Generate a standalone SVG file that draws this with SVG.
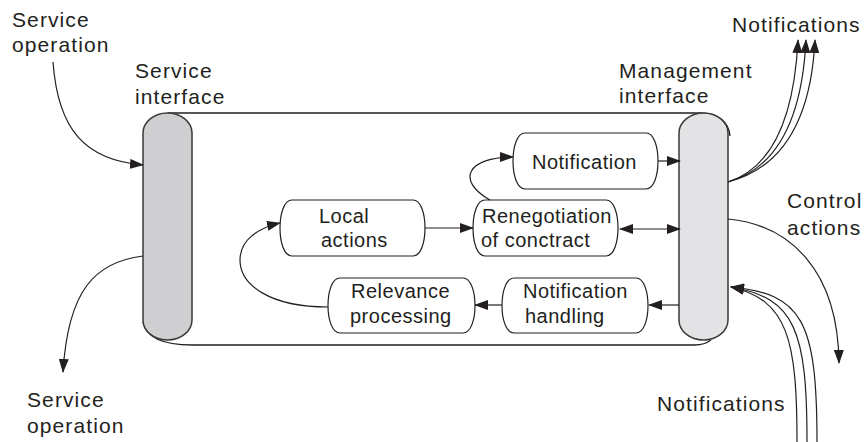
<svg xmlns="http://www.w3.org/2000/svg" width="865" height="442" viewBox="0 0 865 442">
<style>
  .lbl { font-family: "Liberation Sans", Arial, sans-serif; font-size: 21px; letter-spacing: 1.1px; fill: #231f20; }
  .ntx { font-family: "Liberation Sans", Arial, sans-serif; font-size: 20px; letter-spacing: 0.5px; fill: #231f20; }
  .box { fill: #ffffff; stroke: #231f20; stroke-width: 1.2; }
  .pill { stroke: #3a3a3a; stroke-width: 1.5; }
  .tube { fill: none; stroke: #231f20; stroke-width: 1.3; }
  .con { fill: none; stroke: #231f20; stroke-width: 1.2; }
</style>
<defs>
  <marker id="ah" markerWidth="14" markerHeight="10" refX="13" refY="5" orient="auto-start-reverse" markerUnits="userSpaceOnUse">
    <path d="M0,0 L14,5 L0,10 Z" fill="#231f20"/>
  </marker>
</defs>
<rect width="865" height="442" fill="#ffffff"/>

<g id="tube">
  <path class="tube" d="M168,113 H700 C718,113 729,122 730,136"/>
  <path class="tube" d="M143,322 C146,338 165,345 192,345 H695 C702,345 707,343 711,340"/>
</g>

<g id="service-interface">
  <path class="pill" fill="#cfcfd1" d="M143,133 A24.5,20 0 0 1 192,133 V320 A24.5,20 0 0 1 143,320 Z"/>
  <text class="lbl" x="135" y="78">Service</text>
  <text class="lbl" x="135" y="104">interface</text>
</g>

<g id="management-interface">
  <path class="pill" fill="#e3e3e5" d="M679,133 A24.5,20 0 0 1 728,133 V320 A24.5,20 0 0 1 679,320 Z"/>
  <text class="lbl" x="619" y="78">Management</text>
  <text class="lbl" x="619" y="103">interface</text>
</g>

<g id="node-notification">
  <path class="box" d="M525,133 H646 C662,133 662,189 646,189 H525 C509,189 509,133 525,133 Z"/>
  <text class="ntx" x="532" y="169">Notification</text>
</g>

<g id="node-local-actions">
  <path class="box" d="M292,200 H413 C429,200 429,256 413,256 H292 C276,256 276,200 292,200 Z"/>
  <text class="ntx" x="319" y="223">Local</text>
  <text class="ntx" x="321" y="247">actions</text>
</g>

<g id="node-renegotiation">
  <path class="box" d="M485,200 H606 C622,200 622,256 606,256 H485 C469,256 469,200 485,200 Z"/>
  <text class="ntx" x="482" y="223">Renegotiation</text>
  <text class="ntx" x="481" y="247">of conctract</text>
</g>

<g id="node-relevance">
  <path class="box" d="M340,278 H463 C479,278 479,333 463,333 H340 C324,333 324,278 340,278 Z"/>
  <text class="ntx" x="351" y="298">Relevance</text>
  <text class="ntx" x="350" y="323">processing</text>
</g>

<g id="node-notification-handling">
  <path class="box" d="M514,278 H636 C652,278 652,333 636,333 H514 C498,333 498,278 514,278 Z"/>
  <text class="ntx" x="523" y="298">Notification</text>
  <text class="ntx" x="525" y="323">handling</text>
</g>

<g id="outer-labels">
  <text class="lbl" x="12" y="27">Service</text>
  <text class="lbl" x="12" y="52">operation</text>
  <text class="lbl" x="27" y="407">Service</text>
  <text class="lbl" x="27" y="433">operation</text>
  <text class="lbl" x="732" y="32">Notifications</text>
  <text class="lbl" x="787" y="208">Control</text>
  <text class="lbl" x="787" y="235">actions</text>
  <text class="lbl" x="657" y="411">Notifications</text>
</g>

<g id="connectors">
  <path class="con" d="M53,62 C58,130 85,160 143,165" marker-end="url(#ah)"/>
  <path class="con" d="M143,256 C95,262 68,290 63,372" marker-end="url(#ah)"/>
  <path class="con" d="M728,182 C772,168 794,120 798,40" marker-end="url(#ah)"/>
  <path class="con" d="M728,182 C777,168 802,120 806,40" marker-end="url(#ah)"/>
  <path class="con" d="M728,182 C782,168 811,120 815,40" marker-end="url(#ah)"/>
  <path class="con" d="M728,219 C790,225 838,270 839,363" marker-end="url(#ah)"/>
  <path class="con" d="M797,442 C797,340 788,300 731,287" marker-end="url(#ah)"/>
  <path class="con" d="M807,442 C807,330 795,298 731,287" marker-end="url(#ah)"/>
  <path class="con" d="M817,442 C817,320 802,294 731,287" marker-end="url(#ah)"/>
  <path class="con" d="M658,161 H680" marker-end="url(#ah)"/>
  <path class="con" d="M620,229 H680" marker-start="url(#ah)" marker-end="url(#ah)"/>
  <path class="con" d="M679,305 H649" marker-end="url(#ah)"/>
  <path class="con" d="M502,305 H475" marker-end="url(#ah)"/>
  <path class="con" d="M425,228 H473" marker-end="url(#ah)"/>
  <path class="con" d="M490,200 C455,180 468,157 513,157" marker-end="url(#ah)"/>
  <path class="con" d="M328,307 C270,307 240,285 240,260 C240,240 258,228 280,223" marker-end="url(#ah)"/>
</g>
</svg>
